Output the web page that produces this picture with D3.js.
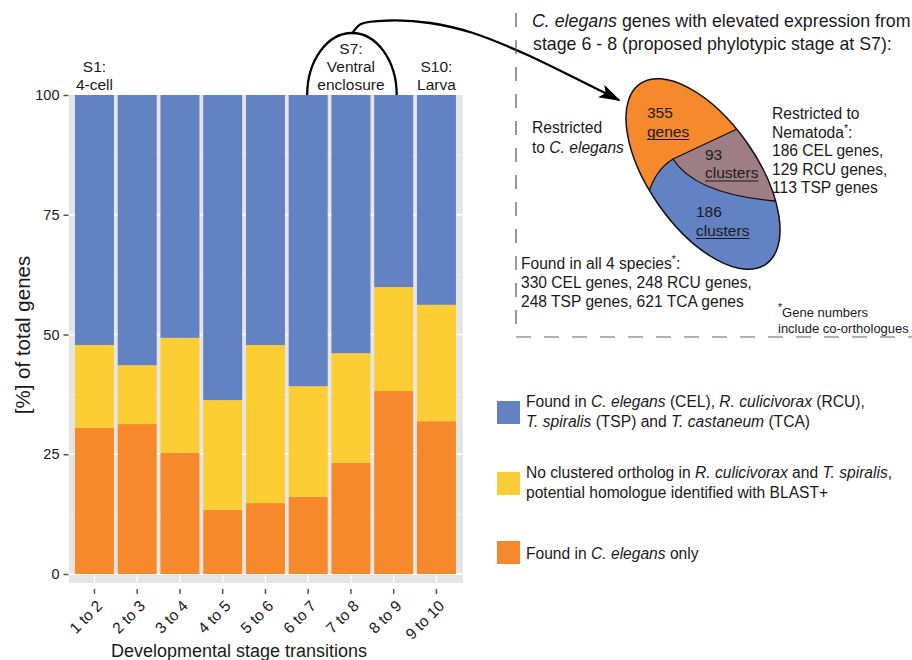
<!DOCTYPE html>
<html>
<head>
<meta charset="utf-8">
<script src="https://cdn.jsdelivr.net/npm/d3@7"></script>
<style>
  body { margin: 0; background: #fff; }
  text { font-family: "Liberation Sans", Arial, Helvetica, sans-serif; fill: #1a1a1a; }
</style>
</head>
<body>
<div id="chart"></div>
<script>
const width = 912;
const height = 660;

// data (percent of genes per transition)
const transitions = ["1 to 2", "2 to 3", "3 to 4", "4 to 5", "5 to 6", "6 to 7", "7 to 8", "8 to 9", "9 to 10"];
const celOnly   = [30.5, 31.3, 25.3, 13.4, 14.8, 16.1, 23.2, 38.2, 31.9];
const blastHit  = [17.3, 12.3, 24.0, 22.9, 33.0, 23.1, 22.9, 21.7, 24.3];
const allFour   = [52.2, 56.4, 50.7, 63.7, 52.2, 60.8, 53.9, 40.1, 43.8];
const yTicks = [0, 25, 50, 75, 100];
const yMinor = [12.5, 37.5, 62.5, 87.5];
const seriesKeys = ["celOnly", "blastHit", "allFour"];
const seriesColors = ["#f6892c", "#fdcd34", "#6282c3"];

// stage labels above bars
const stageLabels = [
  { at: "1 to 2", lines: ["S1:", "4-cell"] },
  { at: "7 to 8", lines: ["S7:", "Ventral", "enclosure"] },
  { at: "9 to 10", lines: ["S10:", "Larva"] }
];

// legend entries, pieces marked i are italic
const legendItems = [
  { key: "allFour", lines: [
    [["Found in "], ["C. elegans", "i"], [" (CEL), "], ["R. culicivorax", "i"], [" (RCU),"]],
    [["T. spiralis", "i"], [" (TSP) and "], ["T. castaneum", "i"], [" (TCA)"]]
  ]},
  { key: "blastHit", lines: [
    [["No clustered ortholog in "], ["R. culicivorax", "i"], [" and "], ["T. spiralis", "i"], [","]],
    [["potential homologue identified with BLAST+"]]
  ]},
  { key: "celOnly", lines: [
    [["Found in "], ["C. elegans", "i"], [" only"]]
  ]}
];

const table = transitions.map((t, i) => ({
  stage: t, celOnly: celOnly[i], blastHit: blastHit[i], allFour: allFour[i]
}));

const svg = d3.select("#chart")
  .append("svg")
  .attr("width", width)
  .attr("height", height);

const xScale = d3.scaleBand()
  .domain(transitions)
  .range([71.2, 459.7])
  .padding(0.088);

const yScale = d3.scaleLinear()
  .domain([0, 100])
  .range([574, 95]);

const color = d3.scaleOrdinal().domain(seriesKeys).range(seriesColors);

// grey panel
const panelLeft = 69, panelRight = 463;
svg.append("rect")
  .attr("x", panelLeft)
  .attr("y", yScale(100))
  .attr("width", panelRight - panelLeft)
  .attr("height", yScale(0) + 9 - yScale(100))
  .attr("fill", "#e5e5e5");

// grid lines
svg.selectAll(".minor")
  .data(yMinor)
  .enter()
  .append("line")
  .attr("x1", panelLeft).attr("x2", panelRight)
  .attr("y1", d => yScale(d)).attr("y2", d => yScale(d))
  .attr("stroke", "#f2f2f2")
  .attr("stroke-width", 0.8);

svg.selectAll(".major")
  .data(yTicks.slice(0, 4))
  .enter()
  .append("line")
  .attr("x1", panelLeft).attr("x2", panelRight)
  .attr("y1", d => yScale(d)).attr("y2", d => yScale(d))
  .attr("stroke", "#fff")
  .attr("stroke-width", 1.3);

svg.selectAll(".vgrid")
  .data(transitions)
  .enter()
  .append("line")
  .attr("x1", d => xScale(d) + xScale.bandwidth() / 2)
  .attr("x2", d => xScale(d) + xScale.bandwidth() / 2)
  .attr("y1", yScale(100)).attr("y2", yScale(0) + 9)
  .attr("stroke", "#fff")
  .attr("stroke-width", 1.3);

// stacked bars
const stacked = d3.stack().keys(seriesKeys)(table);

svg.append("g")
  .selectAll("g")
  .data(stacked)
  .enter()
  .append("g")
  .attr("fill", d => color(d.key))
  .selectAll("rect")
  .data(d => d)
  .enter()
  .append("rect")
  .attr("x", d => xScale(d.data.stage))
  .attr("y", d => yScale(d[1]))
  .attr("width", xScale.bandwidth())
  .attr("height", d => yScale(d[0]) - yScale(d[1]));

// axes
const yAxis = svg.append("g")
  .attr("transform", "translate(" + (panelLeft - 0.5) + ",0)")
  .call(d3.axisLeft(yScale).tickValues(yTicks).tickSize(5).tickPadding(4));
yAxis.select(".domain").remove();
yAxis.selectAll("line").attr("stroke", "#555").attr("stroke-width", 1.5);
yAxis.selectAll("text")
  .style("font-family", "Liberation Sans, Arial, sans-serif")
  .style("font-size", "14.5px")
  .attr("fill", "#1a1a1a");

const xAxis = svg.append("g")
  .attr("transform", "translate(0,589)")
  .call(d3.axisBottom(xScale).tickSize(5).tickSizeOuter(0));
xAxis.select(".domain").remove();
xAxis.selectAll("line").attr("stroke", "#555").attr("stroke-width", 1.5);
xAxis.selectAll("text")
  .style("font-family", "Liberation Sans, Arial, sans-serif")
  .style("font-size", "15.5px")
  .attr("fill", "#1a1a1a")
  .attr("text-anchor", "end")
  .attr("x", 0).attr("y", 0).attr("dy", 0)
  .attr("transform", "translate(9,18) rotate(-45)");

svg.append("text")
  .attr("x", 239)
  .attr("y", 657)
  .attr("text-anchor", "middle")
  .style("font-size", "18px")
  .text("Developmental stage transitions");

svg.append("text")
  .attr("transform", "translate(30,335) rotate(-90)")
  .attr("text-anchor", "middle")
  .style("font-size", "20.5px")
  .text("[%] of total genes");

// stage labels
stageLabels.forEach(s => {
  const cx = xScale(s.at) + xScale.bandwidth() / 2;
  const n = s.lines.length;
  s.lines.forEach((line, j) => {
    svg.append("text")
      .attr("x", cx)
      .attr("y", 89.5 - (n - 1 - j) * 18)
      .attr("text-anchor", "middle")
      .style("font-size", "15.5px")
      .text(line);
  });
});

// arch over stages 6-8 and curved arrow to the venn
const archL = xScale("6 to 7") + xScale.bandwidth() / 2 - 1;
const archR = xScale("8 to 9") + xScale.bandwidth() / 2 + 3;
svg.append("path")
  .attr("d", "M" + archL + "," + yScale(100) + " A" + ((archR - archL) / 2) + ",62 0 0 1 " + archR + "," + yScale(100))
  .attr("fill", "none")
  .attr("stroke", "#000")
  .attr("stroke-width", 2.3);

svg.append("defs").append("marker")
  .attr("id", "head")
  .attr("markerUnits", "userSpaceOnUse")
  .attr("markerWidth", 24).attr("markerHeight", 16)
  .attr("refX", 20).attr("refY", 7)
  .attr("orient", "auto")
  .append("path")
  .attr("d", "M0,0 L22,7 L0,14 L5,7 Z")
  .attr("fill", "#000");

const arrowPts = [[352.5, 33], [361, 24], [390, 20.5], [430, 23], [473, 33], [523, 53], [573, 77], [619, 100]];
svg.append("path")
  .attr("d", d3.line().curve(d3.curveCatmullRom)(arrowPts))
  .attr("fill", "none")
  .attr("stroke", "#000")
  .attr("stroke-width", 2.3)
  .attr("marker-end", "url(#head)");

// inset box (dashed)
svg.append("path")
  .attr("d", "M516,13 L516,336")
  .attr("stroke", "#555").attr("stroke-width", 1.2)
  .attr("stroke-dasharray", "14,13");
svg.append("path")
  .attr("d", "M516,337 L912,337")
  .attr("stroke", "#999").attr("stroke-width", 1.4)
  .attr("stroke-dasharray", "15,13");

// helper for mixed italic text
function richLine(g, x, y, parts, size) {
  const t = g.append("text").attr("x", x).attr("y", y).style("font-size", size);
  parts.forEach(p => {
    const sp = t.append("tspan").text(p[0]);
    if (p[1] === "i") sp.style("font-style", "italic");
    if (p[1] === "sup") sp.style("font-size", "10.5px").attr("dy", -6);
    if (p[1] === "after") sp.attr("dy", 6);
  });
  return t;
}

const inset = svg.append("g");
richLine(inset, 532, 27, [["C. elegans", "i"], [" genes with elevated expression from"]], "17.8px");
richLine(inset, 533, 50, [["stage 6 - 8 (proposed phylotypic stage at S7):"]], "17.8px");

// venn-like ellipse
const vc = { x: 703, y: 174, rx: 110, ry: 54, angle: 55 };
const clip = svg.append("defs").append("clipPath").attr("id", "ell");
clip.append("ellipse")
  .attr("cx", vc.x).attr("cy", vc.y).attr("rx", vc.rx).attr("ry", vc.ry)
  .attr("transform", "rotate(" + vc.angle + "," + vc.x + "," + vc.y + ")");

const vennG = inset.append("g").attr("clip-path", "url(#ell)");
vennG.append("rect").attr("x", 580).attr("y", 60).attr("width", 240).attr("height", 240).attr("fill", "#f6892c");
vennG.append("path")
  .attr("d", "M640,212 L648,195 Q655,170 673,159 Q695,194 775,201 L830,205 L830,300 L600,300 L600,212 Z")
  .attr("fill", "#6282c3");
vennG.append("path")
  .attr("d", "M673,159 L737,129 L795,102 L810,204 L775,201 Q695,194 673,159 Z")
  .attr("fill", "#9d7e85");
vennG.append("path")
  .attr("d", "M640,212 L648,195 Q655,170 673,159 Q695,194 775,201 L800,203 M673,159 L737,129 L760,118")
  .attr("fill", "none").attr("stroke", "#111").attr("stroke-width", 1.3);
inset.append("ellipse")
  .attr("cx", vc.x).attr("cy", vc.y).attr("rx", vc.rx).attr("ry", vc.ry)
  .attr("transform", "rotate(" + vc.angle + "," + vc.x + "," + vc.y + ")")
  .attr("fill", "none").attr("stroke", "#111").attr("stroke-width", 1.5);

const vennLabels = [
  { x: 647, y: 118, top: "355", under: "genes" },
  { x: 705, y: 159.5, top: "93", under: "clusters" },
  { x: 696, y: 217, top: "186", under: "clusters" }
];
vennLabels.forEach(v => {
  inset.append("text").attr("x", v.x).attr("y", v.y).style("font-size", "15.5px").text(v.top);
  const u = inset.append("text").attr("x", v.x).attr("y", v.y + 18.5).style("font-size", "15.5px").text(v.under);
  const w = u.node().getComputedTextLength();
  inset.append("line")
    .attr("x1", v.x).attr("x2", v.x + w)
    .attr("y1", v.y + 21.5).attr("y2", v.y + 21.5)
    .attr("stroke", "#1a1a1a").attr("stroke-width", 1.1);
});

richLine(inset, 532, 133, [["Restricted"]], "15.6px");
richLine(inset, 532, 152.5, [["to "], ["C. elegans", "i"]], "15.6px");

const nemaLines = [
  [["Restricted to"]],
  [["Nematoda"], ["*", "sup"], [":", "after"]],
  [["186 CEL genes,"]],
  [["129 RCU genes,"]],
  [["113 TSP genes"]]
];
nemaLines.forEach((l, j) => richLine(inset, 772, 119 + j * 18.6, l, "15.6px"));

const allLines = [
  [["Found in all 4 species"], ["*", "sup"], [":", "after"]],
  [["330 CEL genes, 248 RCU genes,"]],
  [["248 TSP genes, 621 TCA genes"]]
];
allLines.forEach((l, j) => richLine(inset, 521, 269 + j * 18.8, l, "15.6px"));

richLine(inset, 778, 317, [["*", "sup"], ["Gene numbers", "after"]], "13px");
richLine(inset, 778, 333, [["include co-orthologues"]], "13px");

// legend
legendItems.forEach((item, k) => {
  const top = [401, 472, 541][k];
  svg.append("rect")
    .attr("x", 497).attr("y", top)
    .attr("width", 23).attr("height", 23)
    .attr("fill", color(item.key));
  item.lines.forEach((l, j) => richLine(svg, 526, top + 6 + (item.lines.length === 1 ? 12 : 0) + j * 19.5, l, "15.6px"));
});
</script>
</body>
</html>
